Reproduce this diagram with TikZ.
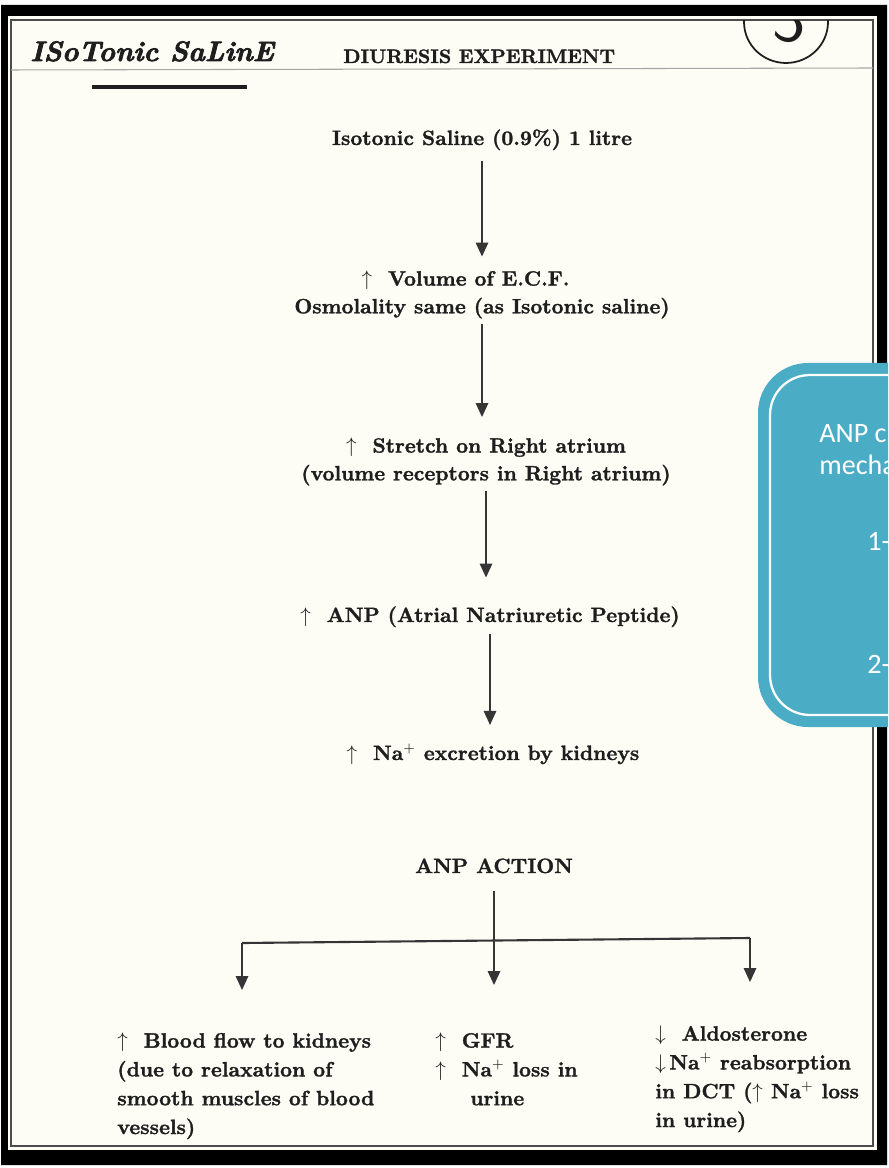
\documentclass[tikz,border=0pt]{standalone}
\usepackage{fontspec}
\newfontfamily\boxfont{Carlito}
\newfontfamily\inkfont{lmroman10-bold.otf}[FakeBold = 1.4]
\newfontfamily\handfont{lmroman10-bolditalic.otf}[FakeBold = 2.5]
\usetikzlibrary{arrows.meta}
\definecolor{ink}{HTML}{1E1E1E}
\definecolor{paper}{HTML}{FDFDF6}
\definecolor{boxteal}{HTML}{4BACC6}
\begin{document}
\begin{tikzpicture}[x = 0.02cm, y = -0.02cm,
    txt/.style = {font = \inkfont\fontsize{11.8}{15.8}\selectfont, text = ink, inner sep = 0pt, align = center},
    col/.style = {font = \inkfont\fontsize{11.8}{16.4}\selectfont, text = ink, inner sep = 0pt, align = left, anchor = north west},
    flow/.style = {line width = 1.2pt, ink!90, -{Triangle[length = 8pt, width = 7pt]}},
    boxtxt/.style = {font = \boxfont\fontsize{16}{19}\selectfont, text = white, inner sep = 0pt, anchor = base west}]
    \useasboundingbox (0, 0) rectangle (888, 1168);
    % page and frame
    \fill[white] (0, 0) rectangle (888, 1168);
    \fill[black, even odd rule] (1, 5) rectangle (887, 1165) (8, 16) rectangle (877, 1150);
    \fill[paper] (8, 16) rectangle (877, 1150);
    \draw[black!70, line width = 0.7pt] (11, 20) rectangle (873, 1146);
    % header
    \node[anchor = base west, font = \handfont\fontsize{16}{16}\selectfont, text = ink, inner sep = 0pt] (title) at (30, 61) {ISoTonic SaLinE};
    \draw[line width = 2.6pt, ink] (92, 87) -- (247, 87);
    \node[anchor = base west, font = \inkfont\fontsize{11.1}{12}\selectfont, text = ink, inner sep = 0pt] (head) at (343, 63) {DIURESIS EXPERIMENT};
    \draw[black!35, line width = 0.6pt] (11, 70) -- (873, 68);
    \begin{scope}
        \clip (11, 21) rectangle (873, 120);
        \draw[ink, line width = 1pt] (786, 22) ellipse [x radius = 0.84cm, y radius = 0.82cm];
        \node[anchor = base, font = \fontsize{40}{40}\selectfont\sffamily, text = ink, inner sep = 0pt] (page) at (789, 42) {3};
    \end{scope}
    % main chain
    \node[txt, anchor = base] (saline) at (482, 145) {Isotonic Saline (0.9\%) 1 litre};
    \node[txt, anchor = north] (ecf) at (482, 270.6) {$\uparrow$\ \ Volume of E.C.F.\hspace*{0.66cm}\\Osmolality same (as Isotonic saline)};
    \node[txt, anchor = north] (stretch) at (486, 437.6) {$\uparrow$\ \ Stretch on Right atrium\\(volume receptors in Right atrium)};
    \node[txt, anchor = base] (anp) at (490, 622) {$\uparrow$\ \ ANP (Atrial Natriuretic Peptide)};
    \node[txt, anchor = base] (sodium) at (493, 760) {$\uparrow$\ \ Na$^{+}$\ excretion by kidneys};
    \node[txt, anchor = base] (action) at (494, 873) {ANP ACTION};
    \draw[flow, shorten < = 0.2cm, shorten > = 0.28cm] (saline) -- (saline |- ecf.north);
    \draw[flow, shorten < = 0.1cm, shorten > = 0.41cm] (ecf) -- (ecf |- stretch.north);
    \draw[flow, shorten < = 0.1cm, shorten > = 0.57cm] (stretch) -- (stretch |- anp.north);
    \draw[flow, shorten < = 0.12cm, shorten > = 0.37cm] (anp) -- (anp |- sodium.north);
    % actions
    \node[col] (blood) at (117, 1032.6) {$\uparrow$\ \ Blood flow to kidneys\\(due to relaxation of\\smooth muscles of blood\\vessels)};
    \node[col] (gfr) at (435, 1032.6) {$\uparrow$\ \ GFR\\$\uparrow$\ \ Na$^{+}$ loss in\\\hspace*{0.7cm}urine};
    \node[col] (aldo) at (655, 1025.6) {$\downarrow$\ \ Aldosterone\\$\downarrow$\,Na$^{+}$ reabsorption\\in DCT ($\uparrow$ Na$^{+}$ loss\\in urine)};
    \coordinate (bl) at (242, 943);
    \coordinate (br) at (750, 938);
    \draw[line width = 1.2pt, ink!90] (bl) -- (br);
    \draw[flow, shorten < = 0.34cm, shorten > = 0.95cm] (action) -- (action |- gfr.north);
    \draw[flow, shorten > = 0.85cm] (bl) -- (bl |- blood.north);
    \draw[flow, shorten > = 0.87cm] (br) -- (br |- aldo.north);
    % overlay box
    \begin{scope}
        \clip (0, 0) rectangle (888, 1168);
        \fill[boxteal, rounded corners = 1cm] (758, 363) rectangle (990, 727);
        \draw[white, line width = 1.3pt, rounded corners = 0.8cm] (770, 375) rectangle (980, 715);
        \node[boxtxt] (cause) at (819, 442) {ANP c};
        \node[boxtxt] (mech) at (819, 474) {mecha};
        \node[boxtxt] (one) at (867, 550) {1-};
        \node[boxtxt] (two) at (867, 673) {2-};
    \end{scope}
\end{tikzpicture}
\end{document}
